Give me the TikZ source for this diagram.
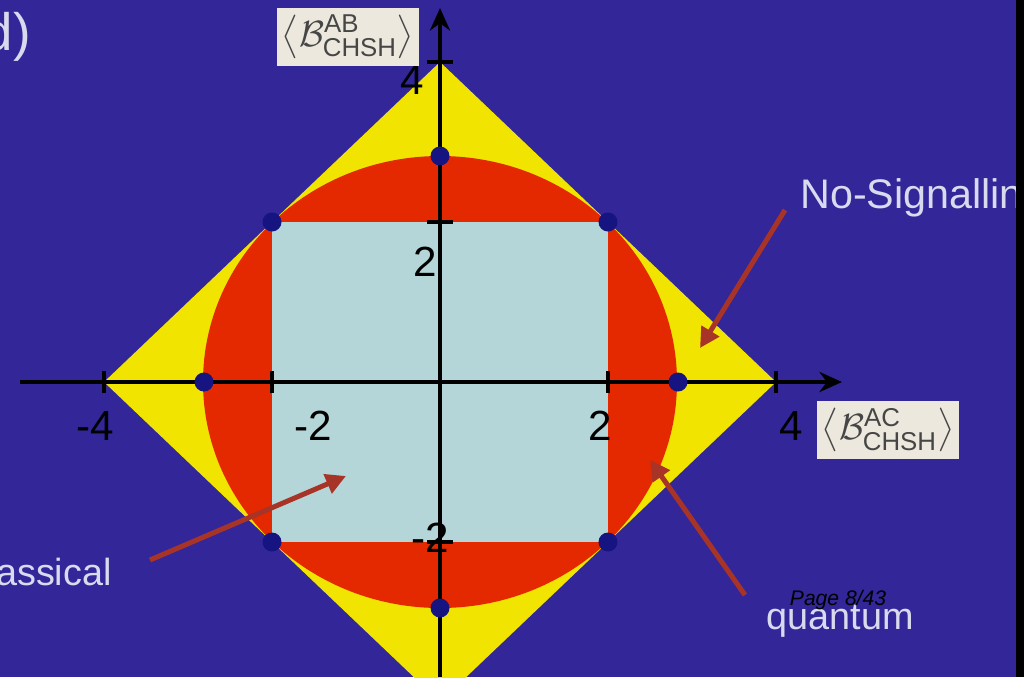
\documentclass[tikz,border=0pt]{standalone}
\usepackage{amsmath}
\usepackage{fontspec}
\setmainfont{Liberation Sans}
\usepackage{xcolor}
\usetikzlibrary{arrows.meta}
\definecolor{slideblue}{RGB}{50,38,152}
\definecolor{nsyellow}{RGB}{240,228,0}
\definecolor{qred}{RGB}{228,40,0}
\definecolor{clblue}{RGB}{180,214,216}
\definecolor{dotblue}{RGB}{22,20,128}
\definecolor{arrowred}{RGB}{168,52,40}
\definecolor{labelwhite}{RGB}{218,218,238}
\definecolor{boxcream}{RGB}{236,232,222}
\definecolor{boxgrey}{RGB}{70,70,70}

\begin{document}
\begin{tikzpicture}[
x=0.02cm, y=-0.02cm,
axis/.style={line width=0.08cm},
tick/.style={line width=0.07cm},
dot/.style={circle, fill=dotblue, inner sep=0pt, minimum size=0.38cm},
num/.style={font=\fontsize{24}{26}\selectfont, text=black, inner sep=0pt},
lbl/.style={font=\fontsize{21.5}{24}\selectfont, text=labelwhite, inner sep=0pt},
pointer/.style={draw=arrowred, line width=0.1cm, -{Triangle[length=0.4cm,width=0.4cm]}},
bracket/.style={fill=boxcream, text=boxgrey, inner sep=0pt,
  minimum width=2.86cm, minimum height=1.16cm,
  font=\fontsize{21}{22}\selectfont}
]
\fill[slideblue] (0,0) rectangle (1024,677);
\useasboundingbox (0,0) rectangle (1024,677);

\fill[nsyellow] (440,62) -- (776,382) -- (440,702) -- (104,382) -- cycle;
\fill[qred] (440,382) ellipse [x radius=237, y radius=226];
\fill[clblue] (272,222) rectangle (608,542);

\draw[axis, -{Stealth[length=0.45cm,width=0.4cm]}] (20,382) -- (842,382);
\draw[axis, -{Stealth[length=0.45cm,width=0.4cm]}] (440,677) -- (440,8);
\foreach \x in {104,272,608,776}
  \draw[tick] (\x,371) -- (\x,393);
\foreach \y in {62,222,542}
  \draw[tick] (427,\y) -- (453,\y);

\node[dot] (qtop) at (440,156) {};
\node[dot] (qbottom) at (440,608) {};
\node[dot] (qleft) at (204,382) {};
\node[dot] (qright) at (678,382) {};
\node[dot] (cnw) at (272,222) {};
\node[dot] (cne) at (608,222) {};
\node[dot] (csw) at (272,542) {};
\node[dot] (cse) at (608,542) {};

\node[num] (xmfour) at (95,426) {-4};
\node[num] (xmtwo) at (313,426) {-2};
\node[num] (xtwo) at (600,426) {2};
\node[num] (xfour) at (791,426) {4};
\node[num] (yfour) at (412,80) {4};
\node[num] (ytwo) at (425,262) {2};
\node[num] (ymtwo) at (430,538) {-2};

\node[bracket] (ablabel) at (348,37)
{$\left\langle\mathcal{B}^{\text{AB}}_{\text{CHSH}}\right\rangle$};
\node[bracket] (aclabel) at (888,430)
{$\left\langle\mathcal{B}^{\text{AC}}_{\text{CHSH}}\right\rangle$};

\node[font=\fontsize{30}{32}\selectfont, text=labelwhite, inner sep=0pt, anchor=east]
  (part) at (31,37) {d)};

\node[lbl, anchor=west, font=\fontsize{23.5}{26}\selectfont] (nslabel) at (800,198) {No-Signalling};
\node[lbl, anchor=east] (cllabel) at (112,572) {classical};
\node[lbl] (qulabel) at (840,621) {quantum};
\node[font=\fontsize{12}{14}\selectfont\itshape, text=black, inner sep=0pt]
  (pagelabel) at (838,600) {Page 8/43};

\coordinate (nstail) at (785,210);
\coordinate (nstip) at (700,348);
\coordinate (cltail) at (150,560);
\coordinate (cltip) at (346,476);
\coordinate (qutail) at (745,595);
\coordinate (qutip) at (650,460);
\draw[pointer] (nstail) -- (nstip);
\draw[pointer] (cltail) -- (cltip);
\draw[pointer] (qutail) -- (qutip);

\fill[black] (1016,0) rectangle (1024,677);
\end{tikzpicture}
\end{document}
